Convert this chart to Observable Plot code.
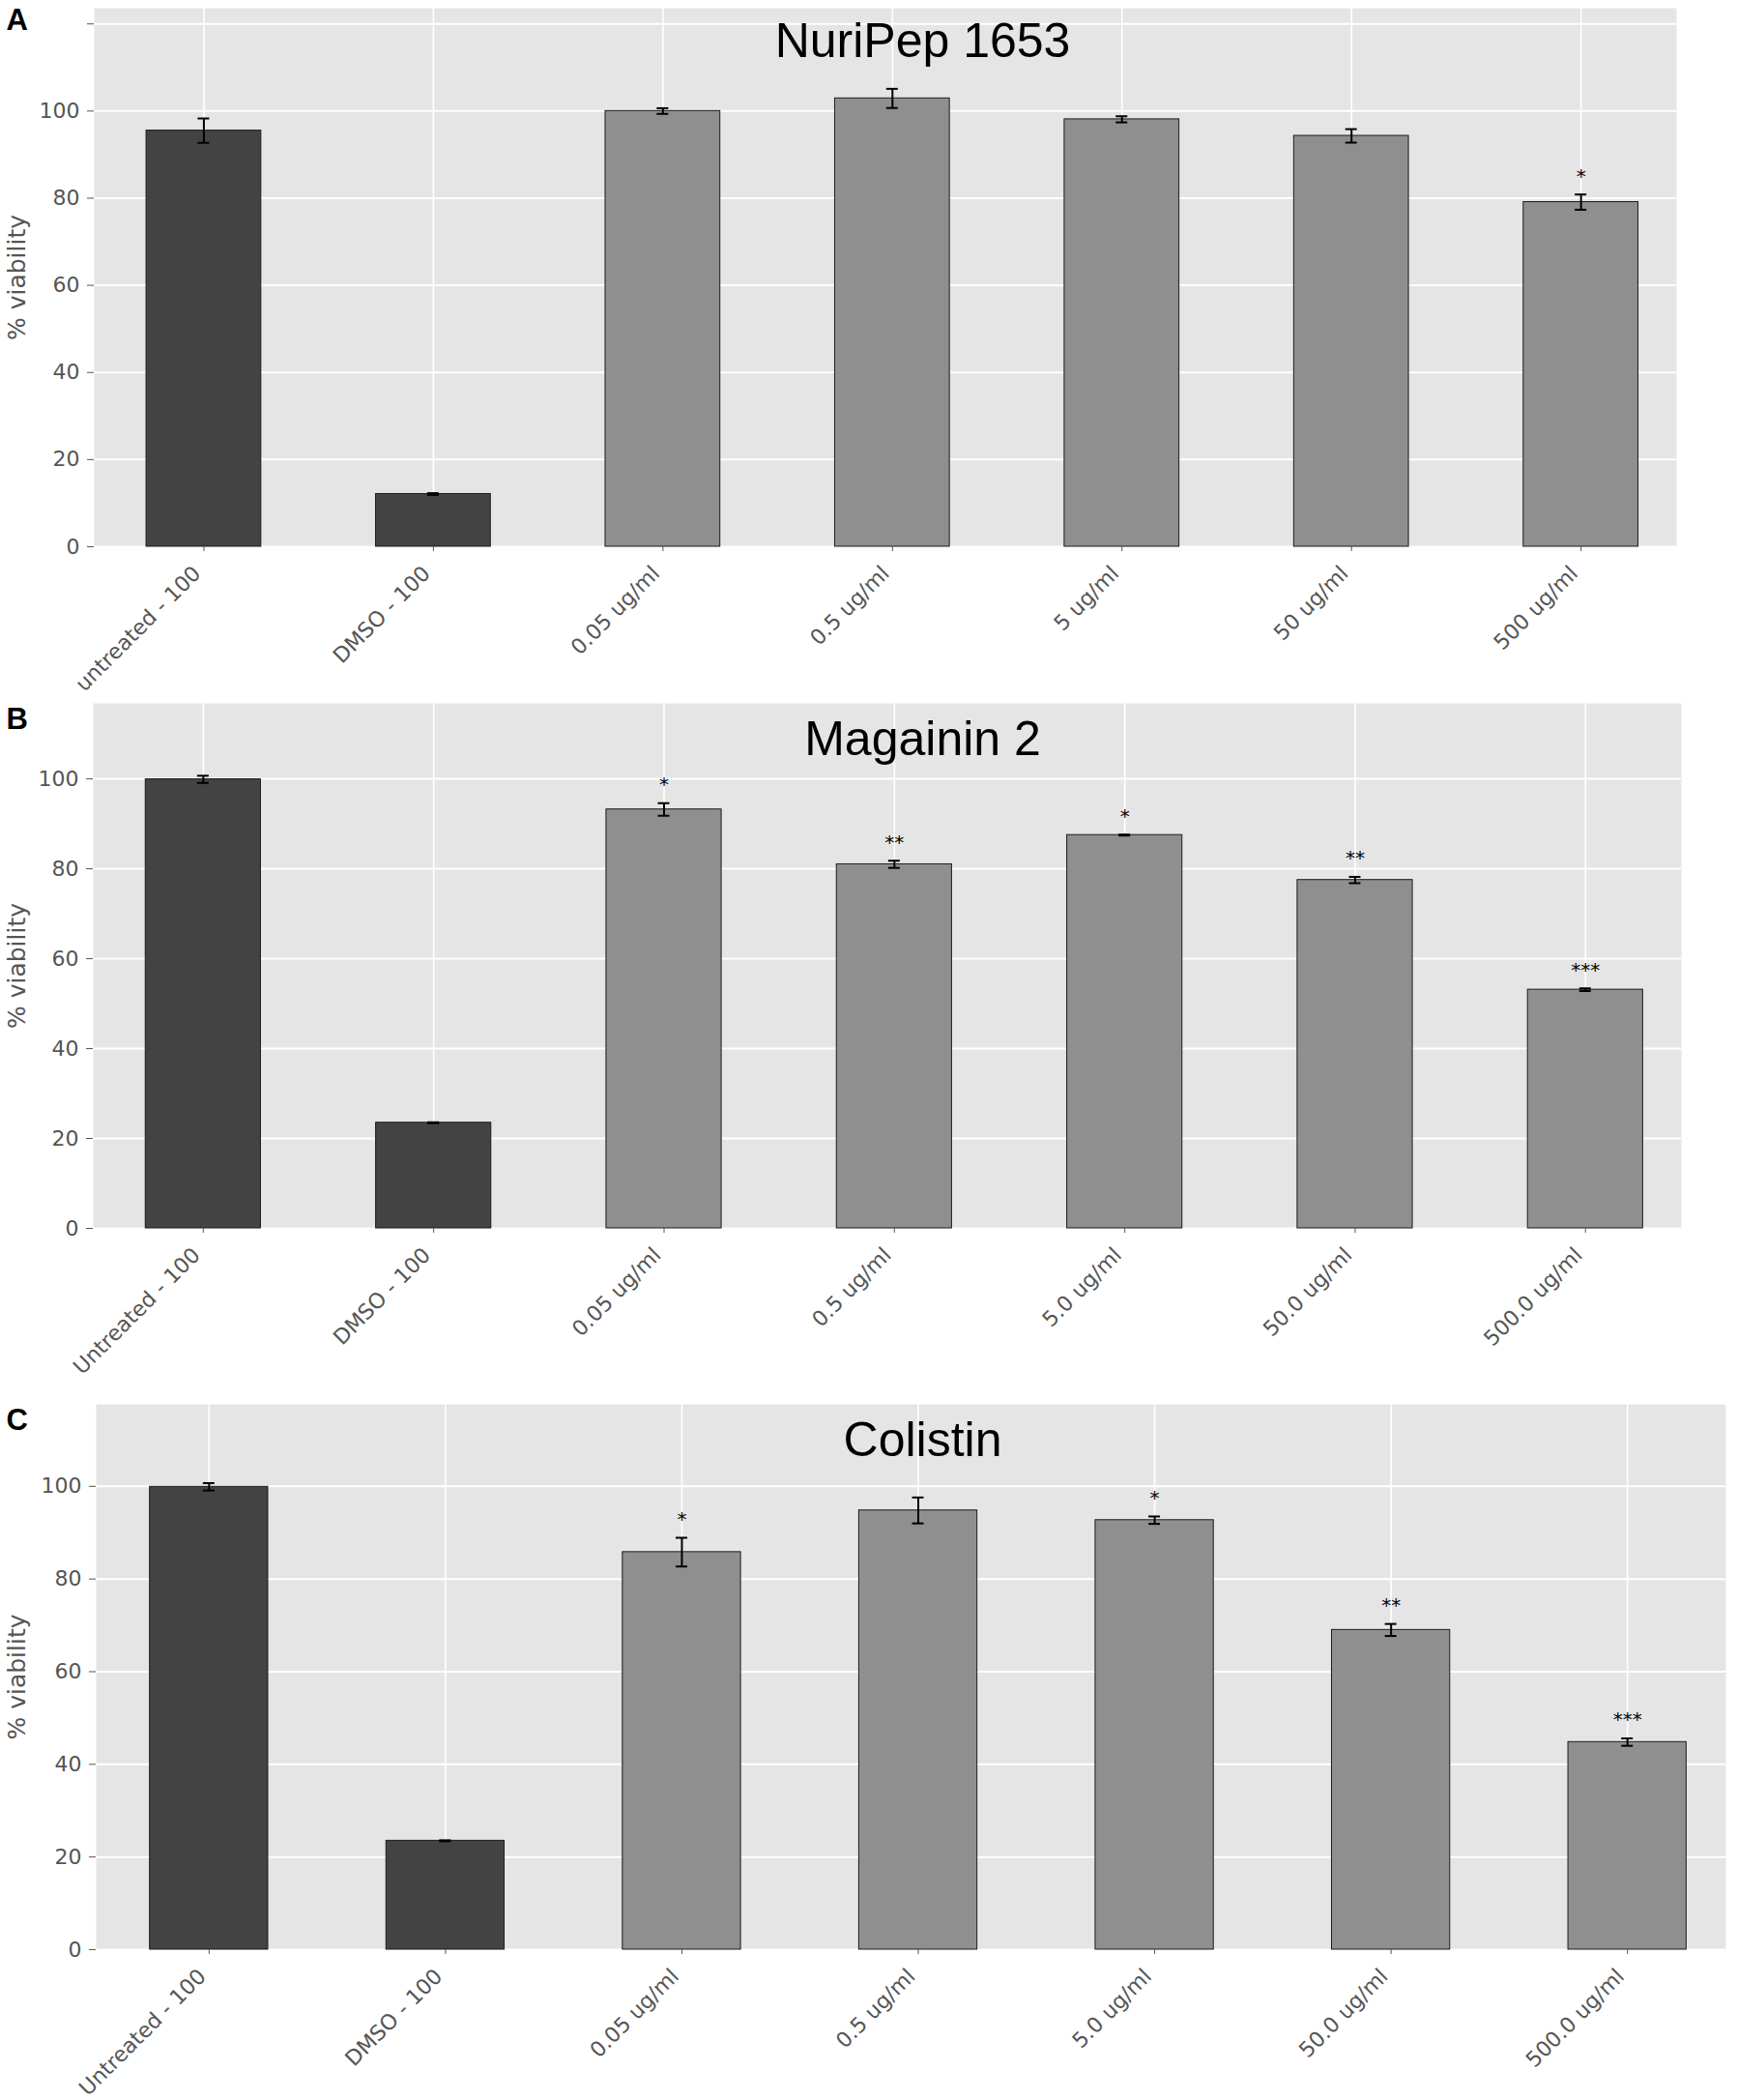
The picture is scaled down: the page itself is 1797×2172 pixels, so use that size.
<!DOCTYPE html>
<html>
<head>
<meta charset="utf-8">
<script src="https://cdn.jsdelivr.net/npm/d3@7"></script>
<script src="https://cdn.jsdelivr.net/npm/@observablehq/plot@0.6"></script>
<style>
  body { margin: 0; background: #fff; }
  #chart svg { display: block; }
</style>
</head>
<body>
<div id="chart"></div>
<script>
// Panel A — NuriPep 1653
const labelsA = ["untreated - 100", "DMSO - 100", "0.05 ug/ml", "0.5 ug/ml", "5 ug/ml", "50 ug/ml", "500 ug/ml"];
const valuesA = [95.5, 12.1, 100.0, 102.9, 98.1, 94.3, 79.1];
const errorsA = [2.8, 0.2, 0.65, 2.2, 0.7, 1.55, 1.75];
const starsA  = ["", "", "", "", "", "", "*"];

// Panel B — Magainin 2
const labelsB = ["Untreated - 100", "DMSO - 100", "0.05 ug/ml", "0.5 ug/ml", "5.0 ug/ml", "50.0 ug/ml", "500.0 ug/ml"];
const valuesB = [99.9, 23.5, 93.2, 81.0, 87.5, 77.5, 53.1];
const errorsB = [0.8, 0.1, 1.4, 0.8, 0.1, 0.7, 0.3];
const starsB  = ["", "", "*", "**", "*", "**", "***"];

// Panel C — Colistin
const labelsC = ["Untreated - 100", "DMSO - 100", "0.05 ug/ml", "0.5 ug/ml", "5.0 ug/ml", "50.0 ug/ml", "500.0 ug/ml"];
const valuesC = [99.9, 23.5, 85.8, 94.8, 92.7, 69.0, 44.8];
const errorsC = [0.8, 0.1, 3.1, 2.8, 0.8, 1.3, 0.8];
const starsC  = ["", "", "*", "", "*", "**", "***"];

const ticksA = [0, 20, 40, 60, 80, 100, 120];
const ticksBC = [0, 20, 40, 60, 80, 100];

function panel(cfg) {
  const data = cfg.labels.map((label, i) => ({
    label, value: cfg.values[i], err: cfg.errors[i], star: cfg.stars[i], control: i < 2
  }));
  const W = 1797;
  const innerW = W - cfg.ml - cfg.mr;
  const n = data.length, pI = 0.5, pO = 0.197;
  const step = innerW / (n - pI + 2 * pO);
  const bw = step * (1 - pI);
  const capInset = (bw - 12) / 2;
  return Plot.plot({
    width: W,
    height: cfg.h,
    marginLeft: cfg.ml,
    marginRight: cfg.mr,
    marginTop: cfg.mt,
    marginBottom: cfg.mb,
    style: { background: "white", fontFamily: "DejaVu Sans", overflow: "visible" },
    x: { type: "band", domain: cfg.labels, paddingInner: pI, paddingOuter: pO, align: 0.578, round: false, label: null },
    y: { domain: [0, cfg.ymax], label: null },
    marks: [
      Plot.frame({ fill: "#e5e5e5", stroke: "none" }),
      Plot.gridY(cfg.ticks, { stroke: "white", strokeOpacity: 1, strokeWidth: 2 }),
      Plot.gridX({ stroke: "white", strokeOpacity: 1, strokeWidth: 1.6 }),
      Plot.barY(data, {
        x: "label", y: "value",
        fill: d => d.control ? "#434343" : "#8f8f8f",
        stroke: "#1c1c1c", strokeWidth: 1
      }),
      Plot.ruleX(data, { x: "label", y1: d => d.value - d.err, y2: d => d.value + d.err, stroke: "black", strokeWidth: 2 }),
      Plot.tickY(data, { x: "label", y: d => d.value - d.err, insetLeft: capInset, insetRight: capInset, stroke: "black", strokeWidth: 2 }),
      Plot.tickY(data, { x: "label", y: d => d.value + d.err, insetLeft: capInset, insetRight: capInset, stroke: "black", strokeWidth: 2 }),
      Plot.text(data.filter(d => d.star), {
        x: "label", y: d => d.value + d.err, text: "star",
        dy: -12.5, lineAnchor: "bottom", fontSize: 20, fill: "black"
      }),
      Plot.axisY({
        ticks: cfg.ticks, tickFormat: d => d === 120 ? "" : String(d),
        tickSize: 7, tickPadding: 8, fontSize: 22, color: "#555", label: null
      }),
      // x ticks (marks only) and rotated category labels
      Plot.axisX({ tickSize: 5, tickFormat: () => "", color: "#555", label: null }),
      Plot.text(cfg.labels, {
        x: d => d, text: d => d, frameAnchor: "bottom",
        rotate: -45, textAnchor: "end", lineAnchor: "bottom",
        dx: -2, dy: 29, fontSize: 22, fill: "#555"
      }),
      Plot.text([cfg.title], {
        text: d => d, frameAnchor: "top-left", dx: 954 - cfg.ml, dy: cfg.titleDy,
        textAnchor: "middle", lineAnchor: "bottom", fontSize: 50,
        fontFamily: "Liberation Sans", fill: "black"
      }),
      Plot.text([cfg.letter], {
        text: d => d, frameAnchor: "top-left", dx: 6 - cfg.ml, dy: cfg.letterDy,
        textAnchor: "start", lineAnchor: "bottom", fontSize: 31, fontWeight: "bold",
        fontFamily: "Liberation Sans", fill: "black"
      }),
      Plot.text(["% viability"], {
        text: d => d, frameAnchor: "left", dx: 17 - cfg.ml, rotate: -90,
        textAnchor: "middle", lineAnchor: "middle",
        fontSize: 25, fill: "#555"
      })
    ]
  });
}

const chart = document.getElementById("chart");
chart.append(panel({
  labels: labelsA, values: valuesA, errors: errorsA, stars: starsA, ticks: ticksA,
  title: "NuriPep 1653", letter: "A", ymax: 123.6,
  h: 720, ml: 97, mr: 63, mt: 8, mb: 155, titleDy: 50, letterDy: 22
}));
chart.append(panel({
  labels: labelsB, values: valuesB, errors: errorsB, stars: starsB, ticks: ticksBC,
  title: "Magainin 2", letter: "B", ymax: 116.8,
  h: 720, ml: 96, mr: 58, mt: 7, mb: 170, titleDy: 53.5, letterDy: 26
}));
chart.append(panel({
  labels: labelsC, values: valuesC, errors: errorsC, stars: starsC, ticks: ticksBC,
  title: "Colistin", letter: "C", ymax: 117.7,
  h: 732, ml: 99, mr: 12, mt: 12, mb: 156, titleDy: 53, letterDy: 26.5
}));
</script>
</body>
</html>
